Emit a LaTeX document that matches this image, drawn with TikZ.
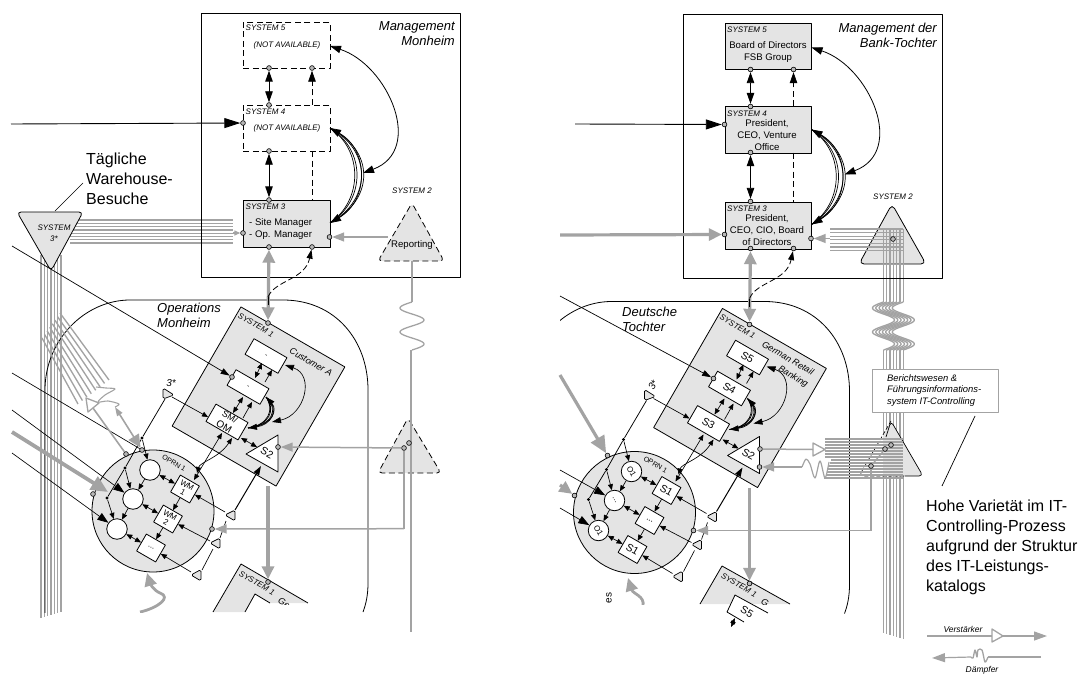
\documentclass[tikz,border=0pt]{standalone}
\usepackage{fontspec}
\setmainfont{Liberation Sans}
\usetikzlibrary{arrows.meta,calc}
\definecolor{vsmfill}{HTML}{E4E4E4}
\definecolor{flow}{HTML}{A3A3A3}
\definecolor{pinfill}{HTML}{B8B8B8}
\newcommand\fs[1]{\fontsize{#1}{#1}\selectfont}
\tikzset{
 tipS/.tip={Triangle[length=6,width=5]},
 tipT/.tip={Triangle[length=9,width=6]},
 tipI/.tip={Triangle[length=11,width=8]},
 tipF/.tip={Triangle[length=12,width=9]},
 tipM/.tip={Triangle[length=11,width=7.5]},
 tipL/.tip={Triangle[length=16,width=10]},
 tipG/.tip={Triangle[length=13,width=12]},
 tipH/.tip={Triangle[length=17,width=15]},
 frame/.style={draw,line width=.9,inner sep=0},
 pin/.style={circle,draw=black,fill=pinfill,inner sep=0,minimum size=4.8,line width=.6},
 blackdot/.style={circle,fill=black,inner sep=0,minimum size=3.4},
 solidbox/.style={draw,line width=.9,fill=vsmfill,inner sep=0},
 dashbox/.style={draw,line width=.8,dash pattern=on 6pt off 3.5pt,inner sep=0},
 sysone/.style={draw,line width=.8,fill=vsmfill,inner sep=0,rotate=-30},
 rbox/.style={draw,line width=.8,fill=white,inner sep=0,rotate=-30,align=center},
 wcirc/.style={circle,draw,line width=.8,fill=white,inner sep=0,minimum size=20.5},
 smalltri/.style={draw,line width=.7,fill=vsmfill,rounded corners=1.8},
 thinlink/.style={draw=black,line width=.65},
 sgl/.style={thinlink,-{tipS}},
 dbl/.style={thinlink,{tipS}-{tipS}},
 flowline/.style={draw=flow,line width=1.3},
 heavy/.style={draw=flow,line width=3.2},
 bund/.style={draw=flow,line width=1.35},
 lab/.style={inner sep=0,font=\fs{8}\itshape},
 txt/.style={inner sep=0,align=center,font={\fontsize{9.6}{12}\selectfont}},
 title/.style={inner sep=0,font={\fontsize{13}{15.2}\selectfont\itshape}},
 big/.style={inner sep=0,align=left,font={\fontsize{16}{20}\selectfont}},
}
% ---------- everything the two halves share, in left-half coordinates
\newcommand\vsmCommon{%
 % rounded operations frame
 \begin{scope}
  \clip (\clipleft,290) rectangle (380,612);
  \draw[line width=.8] (45,625) -- (45,390) .. controls (45,340) and (85,300) .. (130,300) -- (283,300) .. controls (335,300) and (368,340) .. (368,390) -- (368,583) .. controls (368,595) and (366,604) .. (363,612);
 \end{scope}
 \node[frame,anchor=north west,minimum width=259,minimum height=263.5] (mgmt) at (201,13) {};
 \node[upper,anchor=north west,minimum width=86.5,minimum height=46] (s5) at (243,22) {};
 \node[upper,anchor=north west,minimum width=86.5,minimum height=46] (s4) at (243,105) {};
 \node[solidbox,anchor=north west,minimum width=86.5,minimum height=47] (s3) at (243,200) {};
 \node[lab,anchor=west] (l5) at (245.5,28) {SYSTEM 5};
 \node[lab,anchor=west] (l4) at (245.5,112) {SYSTEM 4};
 \node[lab,anchor=west] (l3) at (245.5,207) {SYSTEM 3};
 \coordinate (d45) at (312,105); \coordinate (d34t) at (312,151); \coordinate (d34b) at (312,200);
 \node[pin] (s5a) at (269,68) {}; \node[pin] (s5b) at (312,68) {};
 \node[pin] (s4t) at (269,105) {}; \node[pin] (s4l) at (243,123) {}; \node[pin] (s4b) at (269,151) {};
 \node[pin] (s3t) at (269,200) {}; \node[pin] (s3l) at (243,233) {};
 \node[pin] (s3a) at (269,247) {}; \node[pin] (s3b) at (312,247) {}; \node[pin] (s3r) at (329.5,237) {};
 \draw[thinlink,line width=.9,{tipM}-{tipM}] (s5a) -- (s4t);
 \draw[thinlink,line width=.9,{tipM}-{tipM}] (s4b) -- (s3t);
 \draw[thinlink,line width=.8,dash pattern=on 6pt off 3.5pt,-{tipM}] (d45) -- (s5b);
 \draw[thinlink,line width=.8,dash pattern=on 6pt off 3.5pt] (d34t) -- (d34b);
 % management arcs
 \coordinate (e5) at (330,46); \coordinate (arcE) at (363,173); \coordinate (e4) at (330,128); \coordinate (e3) at (330,223);
 \draw[thinlink,line width=.8,{tipM}-{tipM}] (e5) .. controls (388,65) and (425,150) .. (arcE);
 \foreach \c in {0,1,3,4} {\draw[thinlink,line width=.7] (e4) .. controls (363+3*\c,150) and (363+3*\c,200) .. (e3);}
 \draw[thinlink,line width=.7,{tipM}-{tipM}] (e4) .. controls (369,150) and (369,200) .. (e3);
 % system 1
 \node[sysone,minimum width=120,minimum height=137.6] (sys1) at (258.5,396.5) {};
 \node[pin] (p1t) at (268,323) {};
 \node[lab,rotate=-30] (l1) at (256,325) {SYSTEM 1};
 \draw[heavy,{tipG}-{tipG}] (s3a) -- (p1t);
 \coordinate (dashS) at (268,297); \coordinate (dashE) at (268,305);
 \draw[thinlink,line width=.8,dash pattern=on 6pt off 3pt,-{tipT}] (dashS) .. controls (275,280) and (305,280) .. (s3b);
 \draw[thinlink,line width=1] (dashS) -- (dashE);
 \node[rbox,minimum width=38,minimum height=18] (n5) at (266,356) {\fs{\boxfont}\tFive};
 \node[rbox,minimum width=38,minimum height=18] (n4) at (248,387) {\fs{\boxfont}\tFour};
 \node[rbox,minimum width=37,minimum height=20] (n3) at (227,422) {\tThree};
 \node[pin] (p4) at (232,377) {};
 \coordinate (k1) at (255,378); \coordinate (k2) at (262,363); \coordinate (k3) at (265,382); \coordinate (k4) at (272,370);
 \coordinate (k5) at (233,413); \coordinate (k6) at (243,397); \coordinate (k7) at (243,418); \coordinate (k8) at (252,402);
 \draw[dbl] (k1) -- (k2); \draw[sgl] (k3) -- (k4); \draw[dbl] (k5) -- (k6); \draw[sgl] (k7) -- (k8);
 \coordinate (a5) at (285,365); \coordinate (a3) at (272,422);
 \draw[thinlink,{tipT}-{tipT}] (a5) .. controls (315,375) and (305,415) .. (a3);
 \coordinate (b3) at (248,428); \coordinate (b4) at (266,397);
 \foreach \c in {0,1,3,4} {\draw[thinlink,line width=.7] (b3) .. controls (268+1.4*\c,425) and (275+1.4*\c,410) .. (b4);}
 \draw[thinlink,line width=.7,{tipT}-{tipT}] (b3) .. controls (271,425) and (278,410) .. (b4);
 % S2
 \draw[line width=.8,fill=white] (278,435) -- (246,454) -- (278,472) -- cycle;
 \node[inner sep=0,rotate=-30,font=\fs{10.5}] (s2t) at (267,453) {S2};
 \coordinate (s2in) at (261,466); \coordinate (s2l) at (257,447); \coordinate (n3r) at (241,438);
 \draw[dbl] (n3r) -- (s2l);
 % lower system 1 pin and link
 \node[pin] (p1b) at (268,582) {};
 \coordinate (s1bot) at (268,486);
 \draw[heavy,-{tipG}] (s1bot) -- (p1b);
 % OPRN circle
 \node[circle,draw,line width=.8,fill=vsmfill,inner sep=0,minimum size=122] (oprn) at (153,511) {};
 \node[inner sep=0,rotate=-30,font=\fs{7}] (lop) at (174,463) {OPRN 1};
 \node[wcirc] (O1) at (150,470) {\oOne};
 \node[wcirc] (O2) at (133,499) {\oTwo};
 \node[wcirc] (O3) at (117,529) {\oThree};
 \node[rbox,minimum width=22,minimum height=19.5,font={\fontsize{\wfont}{8.5}\selectfont}] (w1) at (185,489) {\wOne};
 \node[rbox,minimum width=22,minimum height=19.5,font={\fontsize{\wfont}{8.5}\selectfont}] (w2) at (168,519) {\wTwo};
 \node[rbox,minimum width=22,minimum height=19.5,font={\fontsize{\wfont}{8.5}\selectfont}] (w3) at (151,548) {\wThree};
 \node[pin] (pb) at (93,494) {};
 \node[pin] (pe) at (212,529) {};
 \node[blackdot] (da) at (142,438) {}; \node[blackdot] (db) at (125,468) {}; \node[blackdot] (dc) at (107,498) {};
 % small triangles
 \coordinate (t0) at (168,393); \coordinate (t1) at (231,515); \coordinate (t2) at (215,543); \coordinate (t3) at (197,575);
 \draw[smalltri] (163,388) -- (163,399) -- (174,395) -- cycle;
 \draw[smalltri] (225,515) -- (235,510) -- (235,521) -- cycle;
 \draw[smalltri] (210,543) -- (220,538) -- (220,549) -- cycle;
 \draw[smalltri] (191,575) -- (201,569.5) -- (201,581) -- cycle;
 \coordinate (t0a) at (165,399); \coordinate (t0b) at (172,397); \coordinate (n3l) at (208,417);
 \coordinate (t1a) at (225,512); \coordinate (t1b) at (235,510); \coordinate (t1c) at (226,521);
 \coordinate (t2a) at (210,541); \coordinate (t2b) at (220,538); \coordinate (t2c) at (213,549);
 \coordinate (t3a) at (191,572); \coordinate (t3b) at (202,570);
 \draw[thinlink,line width=.75] (t0a) -- (da) -- (db) -- (dc);
 \draw[sgl] (t0b) -- (n3l);
 \draw[sgl] (da) -- (O1); \draw[sgl] (db) -- (O2); \draw[sgl] (dc) -- (O3);
 \draw[thinlink,-{tipS}] (O1) -- (O2); \draw[thinlink,-{tipS}] (O2) -- (O3);
 \draw[dbl] (O1) -- (w1); \draw[dbl] (O2) -- (w2); \draw[dbl] (O3) -- (w3);
 \draw[sgl] (w1) -- (w2); \draw[sgl] (w2) -- (w3);
 \draw[sgl] (t1a) -- (w1); \draw[sgl] (t2a) -- (w2); \draw[sgl] (t3a) -- (w3);
 \draw[thinlink,line width=1,-{tipT}] (t1b) -- (s2in);
 \draw[thinlink] (t2b) -- (t1c); \draw[thinlink] (t3b) -- (t2c);
 \coordinate (w1a) at (194,480); \coordinate (n3a) at (222,433); \coordinate (w1b) at (197,473); \coordinate (n3b) at (232,438);
 \draw[dbl] (w1a) -- (n3a);
 \draw[dbl] (w1b) .. controls (200,462) and (219,458) .. (n3b);
}
\begin{document}
\begin{tikzpicture}[x=1pt,y=-1pt,line join=round]
\useasboundingbox (0,0) rectangle (1083,674);
% ==================== LEFT HALF ====================
% bundles of System 3*
\foreach \i in {0,...,7} \draw[bund] (70,220+3.3*\i) -- (233,220+3.3*\i);
\foreach \i in {0,...,6} \draw[bund] (41+3.33*\i,255) -- (41+3.33*\i,618-\i);
\draw[smalltri,line width=.8,rounded corners=4] (17,212) -- (83,212) -- (51,271) -- cycle;
\node[inner sep=0,align=center,font={\fontsize{8}{10.5}\selectfont\itshape}] (L3s) at (54,233) {SYSTEM\\3*};
\node[big,anchor=north west] (Ltag) at (86,152.5) {Tägliche\\Warehouse-\\Besuche};
\coordinate (Ltg1) at (83,183); \coordinate (Ltg2) at (55,211);
\draw[line width=.7] (Ltg1) -- (Ltg2);
\begin{scope}[name prefix=L-]
 \tikzset{upper/.style={dashbox}}
 \def\clipleft{0}\def\boxfont{7}
 \def\tFive{-}\def\tFour{-}\def\tThree{\fontsize{9}{11}\selectfont SM/\\OM}
 \def\oOne{}\def\oTwo{}\def\oThree{}\def\wfont{8}
 \def\wOne{WM\\1}\def\wTwo{WM\\2}\def\wThree{...}
 \vsmCommon
 \node[pin] (pa) at (142,450) {};
 \node[pin] (pc) at (126,454) {};
 \node[pin] (s2r) at (278,447) {};
\end{scope}
\node[txt] (Ln5) at (287,45) {\fs{8}\itshape (NOT AVAILABLE)};
\node[txt] (Ln4) at (287,128) {\fs{8}\itshape (NOT AVAILABLE)};
\node[txt,anchor=west,align=left] (Ln3) at (249,229) {- Site Manager\\- Op. Manager};
\node[title,align=right,anchor=north east] (Ltm) at (455,21) {Management\\Monheim};
\node[title,align=left,anchor=north west] (Lto) at (157,303) {Operations\\Monheim};
\node[inner sep=0,rotate=-30,font=\fs{9}\itshape] (Lcu) at (311,362) {Customer A};
\node[inner sep=0,font=\fs{10}\itshape] (L3star) at (171,383) {3*};
\draw[flowline,-{tipS}] (233,233) -- (L-s3l);
% inputs of System 4 and 1
\coordinate (Li4) at (11,124);
\draw[thinlink,line width=.9,-{tipL}] (Li4) -- (L-s4l);
\coordinate (Li1) at (12,246);
\draw[thinlink,line width=.7,-{tipT}] (Li1) -- (L-p4);
\coordinate (Lia) at (12,373); \draw[thinlink] (Lia) -- (L-pa);
\coordinate (Lib) at (12,410); \draw[thinlink,-{tipI}] (Lib) -- (L-O2);
\coordinate (Lic) at (12,453); \draw[thinlink,-{tipI}] (Lic) -- (L-O3);
\coordinate (Lid) at (12,432); \coordinate (Lie) at (108,492);
\draw[draw=flow,line width=3.8,-{tipH}] (Lid) -- (Lie);
% diagonal bundle with amplifier and damper
\coordinate (Dn1) at (60,313); \coordinate (Dn2) at (42,338); \coordinate (Dm1) at (109,380); \coordinate (Dm2) at (78,404);
\foreach \i in {0,...,7} \draw[bund] ($(Dn1)!\i/7!(Dn2)$) -- ($(Dm1)!\i/7!(Dm2)$);
\draw[flowline,line width=1.1,smooth] plot coordinates {(96,387) (106,388) (115,389) (105,395) (98,402) (108,401) (119,404) (115,407)};
\coordinate (Da1) at (115,407); \coordinate (Da2) at (93,408);
\draw[flowline,line width=1.6,{tipT}-{tipG}] (Da1) -- (L-pa);
\draw[flowline,line width=1.6] (Da2) -- (L-pc);
\draw[flowline,fill=white] (86,398) -- (99,403) -- (88,412) -- cycle;
% Reporting triangle
\draw[draw=black,line width=.8,fill=vsmfill,rounded corners=4,dash pattern=on 6pt off 3.5pt] (412,203) -- (378,261) -- (444,261) -- cycle;
\node[lab] (Ll2) at (412,191) {SYSTEM 2};
\node[txt] (Lrep) at (412,245) {Reporting};
\coordinate (Lra) at (388,237); \draw[flowline,line width=1.5,-{tipF}] (Lra) -- (L-s3r);
\coordinate (Lrb) at (412,261); \coordinate (Lrc) at (412,302);
\draw[flowline] (Lrb) -- (Lrc);
\draw[flowline] plot[domain=302:350,samples=60,smooth] ({412+12*sin(360*(\x-314)/24)},\x);
% lower dashed triangle
\draw[draw=black,line width=.8,fill=vsmfill,rounded corners=4,dash pattern=on 6pt off 3.5pt] (408,418) -- (378,473) -- (441,473) -- cycle;
\coordinate (Lra2) at (411,350); \coordinate (Lre) at (411,632);
\draw[flowline] (Lra2) -- (Lre);
\node[pin] (Lt1) at (409,443) {}; \node[pin] (Lt2) at (404,448) {};
\draw[flowline,line width=1.5,-{tipF}] (Lt2) -- (L-s2r);
\coordinate (Ltc) at (404,528.7);
\draw[flowline,line width=1.5] (Lt2) -- (Ltc);
\draw[flowline,line width=1.5,-{tipF}] (Ltc) -- (L-pe);
% arrow below OPRN and lower system 1
\begin{scope}
 \clip (100,560) rectangle (340,612);
 \draw[heavy,line width=2.8,-{tipG}] (140,612) .. controls (158,608) and (172,597) .. (160,593) .. controls (153,590) and (150,583) .. (147,573);
 \fill[vsmfill] (241,564) -- (308,603) -- (270,603) -- (255,594) -- (245,612) -- (213,612) -- cycle;
 \draw[line width=.8] (213,612) -- (241,564) -- (308,603);
 \draw[line width=.8] (245,612) -- (255,594) -- (270,603);
 \node[lab,rotate=-30] (Ll1b) at (257,583) {SYSTEM 1};
 \clip (200,560) rectangle (340,604);
 \node[inner sep=0,rotate=-30,font=\fs{9}\itshape] (Lge) at (284,603) {Ge};
\end{scope}
\node[pin] (Lp1) at (268,582) {};
% ==================== RIGHT HALF ====================
% horizontal and vertical bundles of System 2
\draw[smalltri,line width=.8,rounded corners=5] (892,204) -- (859,264) -- (926,264) -- cycle;
\foreach \i in {0,...,6} \draw[bund] (830,229+3.6*\i) -- (903,229+3.6*\i);
\foreach \i in {0,...,6} {
 \pgfmathsetmacro\xx{883.5+3.3*\i}
 \draw[bund] (\xx,229) -- (\xx,302);
 \draw[bund] plot[domain=302:350,samples=60,smooth] ({\xx+11*sin(360*(\x-314)/24)},\x);
 \draw[bund] (\xx,350) -- (\xx,633+\i);
}
\node[lab] (Rl2) at (893,197) {SYSTEM 2};
\begin{scope}[shift={(481.5,1.5)},name prefix=R-]
 \tikzset{upper/.style={solidbox}}
 \def\clipleft{78.5}\def\boxfont{10.5}
 \def\tFive{S5}\def\tFour{S4}\def\tThree{\fs{10.5}S3}
 \def\oOne{\rotatebox{-60}{\fs{8}O1}}\def\oTwo{\rotatebox{-60}{\fs{8}...}}\def\oThree{\rotatebox{-60}{\fs{8}O1}}\def\wfont{10.5}
 \def\wOne{\fs{10.5}S1}\def\wTwo{\fs{9}...}\def\wThree{\fs{10.5}S1}
 \vsmCommon
 \node[pin] (pc) at (126,454) {};
 \node[pin] (s2u) at (278.5,447.5) {};
 \node[pin] (s2d) at (278,465.5) {};
\end{scope}
\node[pin] (Rp2) at (893,239) {};
\coordinate (Rbh) at (830,238.5);
\draw[flowline,line width=1.5,-{tipF}] (Rbh) -- (R-s3r);
\node[txt] (Rn5) at (768,52) {Board of Directors\\FSB Group};
\node[txt] (Rn4) at (767,135) {President,\\CEO, Venture\\Office};
\node[txt] (Rn3) at (767,230) {President,\\CEO, CIO, Board\\of Directors};
\node[title,align=right,anchor=north east] (Rtm) at (937,23) {Management der\\Bank-Tochter};
\node[title,align=left,anchor=north west] (Rto) at (622,307) {Deutsche\\Tochter};
\node[inner sep=0,rotate=-30,font=\fs{9}\itshape] (Rge1) at (788,358) {German Retail};
\node[inner sep=0,rotate=-30,font=\fs{9}\itshape] (Rge2) at (793,377) {Banking};
\node[inner sep=0,rotate=60,font=\fs{10}\itshape] (R3star) at (653,385) {3*};
\coordinate (Ri4) at (575,124);
\draw[thinlink,line width=.9,-{tipL}] (Ri4) -- (R-s4l);
\coordinate (Ri3) at (560,235);
\draw[draw=flow,line width=3.2,-{tipG}] (Ri3) -- (R-s3l);
\coordinate (Ri1) at (560,296);
\draw[thinlink,line width=.7,-{tipT}] (Ri1) -- (R-p4);
\coordinate (Rib) at (560,470); \draw[thinlink,-{tipI}] (Rib) -- (R-O2);
\coordinate (Ric) at (560,508); \draw[thinlink,-{tipI}] (Ric) -- (R-O3);
\coordinate (Rid) at (560,375); \draw[draw=flow,line width=3.2,-{tipH}] (Rid) -- (R-pc);
\coordinate (Rie) at (560,485); \draw[draw=flow,line width=3.2,-{tipG}] (Rie) -- (R-pb);
% reporting triangle with crossing bundles
\begin{scope}
 \clip (883,400) rectangle (930,480);
 \fill[vsmfill,rounded corners=4] (891,421) -- (859,476) -- (923,476) -- cycle;
\end{scope}
\draw[line width=.7,rounded corners=4] (886,437) -- (891,421) -- (923,476) -- (905,476);
\draw[line width=.6,rounded corners=4,dash pattern=on 4pt off 2pt] (891,421) -- (859,476) -- (905,476);
\foreach \i in {0,...,6} \draw[bund] (825,439+3*\i) -- (903,439+3*\i);
\foreach \i in {0,...,6} \draw[bund] (831-1.1*\i,460+3*\i) -- (903,460+3*\i);
\draw[flowline,fill=white] (813,443) -- (825,449.5) -- (813,456) -- cycle;
\coordinate (Ram) at (813,449.5);
\draw[flowline,line width=1.5] (R-s2u) -- (Ram);
\coordinate (Rdm) at (802,467);
\draw[flowline,line width=1.5,-{tipF}] (Rdm) -- (R-s2d);
\draw[flowline,line width=1.2,smooth] plot coordinates {(802,467) (806,459) (810,464) (815,478) (820,461) (825,478) (829,462)};
\node[pin] (Rt1) at (891,445) {}; \node[pin] (Rt2) at (885,449) {}; \node[pin] (Rt3) at (871,466) {};
\draw[flowline] (Rt2) -- (Rt3);
\coordinate (Rtc) at (871,530.5);
\draw[flowline,line width=1.5] (Rt3) -- (Rtc);
\draw[flowline,line width=1.5,-{tipF}] (Rtc) -- (R-pe);
% note box
\node[draw=flow,fill=white,line width=.8,minimum width=126,minimum height=43,anchor=north west,inner sep=0] (Rnote) at (872,369) {};
\node[inner sep=0,anchor=north west,align=left,font={\fontsize{9.4}{11.6}\selectfont\itshape}] (Rnt) at (887,374) {Berichtswesen \&\\Führungsinformations-\\system IT-Controlling};
\coordinate (Rn1) at (975,416); \coordinate (Rn2) at (942,486);
\draw[line width=.7] (Rn1) -- (Rn2);
\node[big,anchor=north west] (Rhv) at (926,500) {Hohe Varietät im IT-\\Controlling-Prozess\\aufgrund der Struktur\\des IT-Leistungs-\\katalogs};
% bottom arrow and lower system 1
\begin{scope}
 \clip (600,560) rectangle (800,604);
 \draw[heavy,line width=2.8,-{tipG}] (643,606) .. controls (645,596) and (633,594) .. (628,578);
 \fill[vsmfill] (700,604) -- (722,566) -- (790,604) -- cycle;
 \draw[line width=.8] (700,604) -- (722,566) -- (790,604);
 \node[lab,rotate=-30] (Rl1b) at (739,585) {SYSTEM 1};
 \node[inner sep=0,rotate=-30,font=\fs{9}\itshape] (Rge) at (765,603) {G};
\end{scope}
\node[pin] (Rp1) at (749.5,583.5) {};
\fill[white] (735,595) -- (768,613) -- (758,630) -- (727,612) -- cycle;
\draw[line width=.8] (768,613) -- (735,595) -- (727,612) -- (744,622);
\node[inner sep=0,rotate=-30,font=\fs{10.5}] (Rs5) at (747,612) {S5};
\coordinate (Rs5a) at (735,618); \coordinate (Rs5b) at (731,627);
\draw[dbl] (Rs5a) -- (Rs5b);
\node[inner sep=0,rotate=90,font=\fs{10}] (Res) at (609,598) {es};
% legend
\coordinate (Va) at (927,636); \coordinate (Vb) at (992,636); \coordinate (Vc) at (1003,636); \coordinate (Vd) at (1047,636);
\draw[flowline] (Va) -- (Vb);
\draw[flowline,fill=white] (992,629) -- (1003,636) -- (992,642) -- cycle;
\draw[flowline,line width=1.2,-{Triangle[length=13,width=9]}] (Vc) -- (Vd);
\node[inner sep=0,font=\fs{8.5}\itshape] (Vt) at (963,629) {Verstärker};
\coordinate (Wa) at (1041,657); \coordinate (Wb) at (988,657); \coordinate (Wc) at (971,657); \coordinate (Wd) at (932,658);
\draw[flowline] (Wa) -- (Wb);
\draw[flowline,smooth] plot coordinates {(988,657) (985,662) (982,650) (978,650) (977,657) (975,650) (973,658) (971,657)};
\draw[flowline,line width=1.2,-{Triangle[length=13,width=9]}] (Wc) -- (Wd);
\node[inner sep=0,font=\fs{8.5}\itshape] (Wt) at (982,670) {Dämpfer};
\end{tikzpicture}
\end{document}
